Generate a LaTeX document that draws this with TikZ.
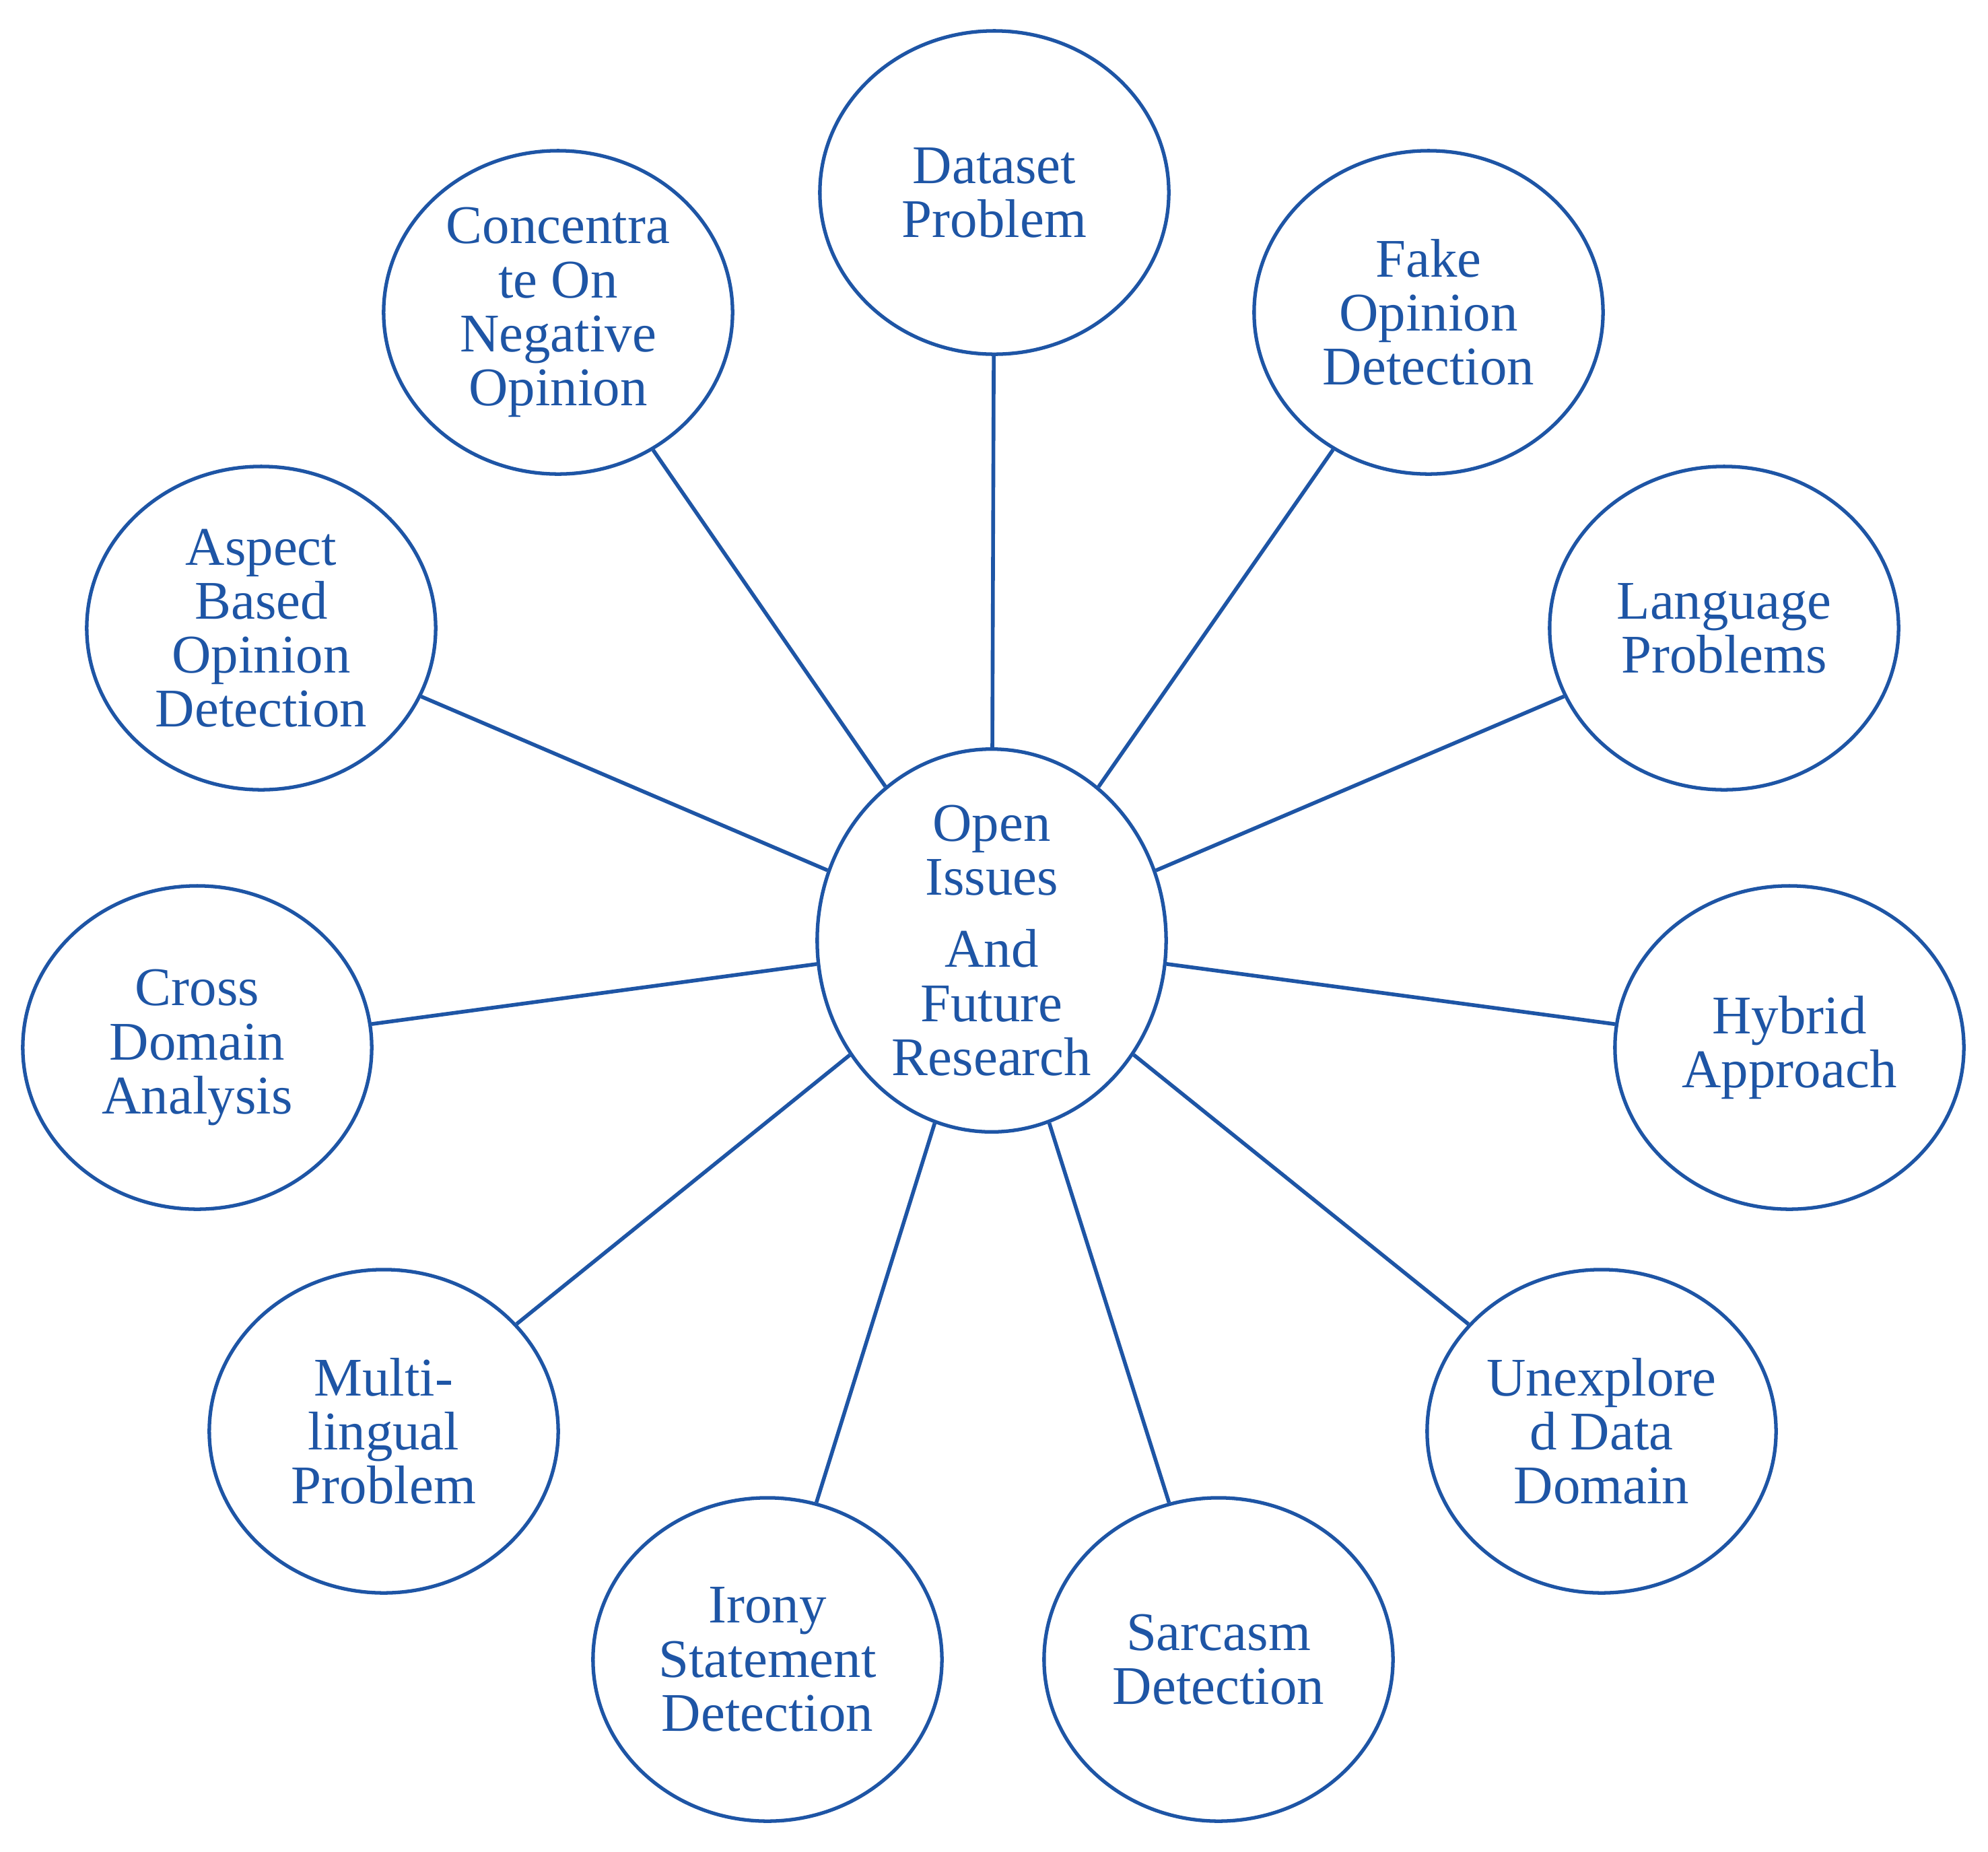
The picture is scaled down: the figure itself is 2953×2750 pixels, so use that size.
\documentclass[tikz,border=0pt]{standalone}
\usepackage{fontspec}
\setmainfont{Liberation Serif}
\usetikzlibrary{shapes.geometric}
\definecolor{dblue}{RGB}{30,85,165}
\begin{document}
\begin{tikzpicture}[x=0.01cm,y=-0.01cm,
  bub/.style={ellipse, draw=dblue, line width=1.5pt, minimum width=5.18cm, minimum height=4.8cm, inner sep=0pt, align=center, text=dblue, font=\fontsize{23}{22.8}\selectfont},
  link/.style={draw=dblue, line width=1.6pt}]
\useasboundingbox (0,0) rectangle (2953,2750);
\node[bub] (c) at (1473,1397) {Open\\Issues\\[0.27cm]And\\Future\\Research};
\node[bub] (n1) at (1477,286) {Dataset\\Problem};
\node[bub] (n2) at (2122,464) {Fake\\Opinion\\Detection};
\node[bub] (n3) at (2561,933) {Language\\Problems};
\node[bub] (n4) at (2658,1556) {Hybrid\\Approach};
\node[bub] (n5) at (2379,2126) {Unexplore\\d Data\\Domain};
\node[bub] (n6) at (1810,2465) {Sarcasm\\Detection};
\node[bub] (n7) at (1140,2465) {Irony\\Statement\\Detection};
\node[bub] (n8) at (570,2126) {Multi-\\lingual\\Problem};
\node[bub] (n9) at (293,1556) {Cross\\Domain\\Analysis};
\node[bub] (n10) at (388,933) {Aspect\\Based\\Opinion\\Detection};
\node[bub] (n11) at (829,464) {Concentra\\te On\\Negative\\Opinion};
\foreach \n in {n1,n2,n3,n4,n5,n6,n7,n8,n9,n10,n11}
  \draw[link] (c) -- (\n);
\end{tikzpicture}
\end{document}
